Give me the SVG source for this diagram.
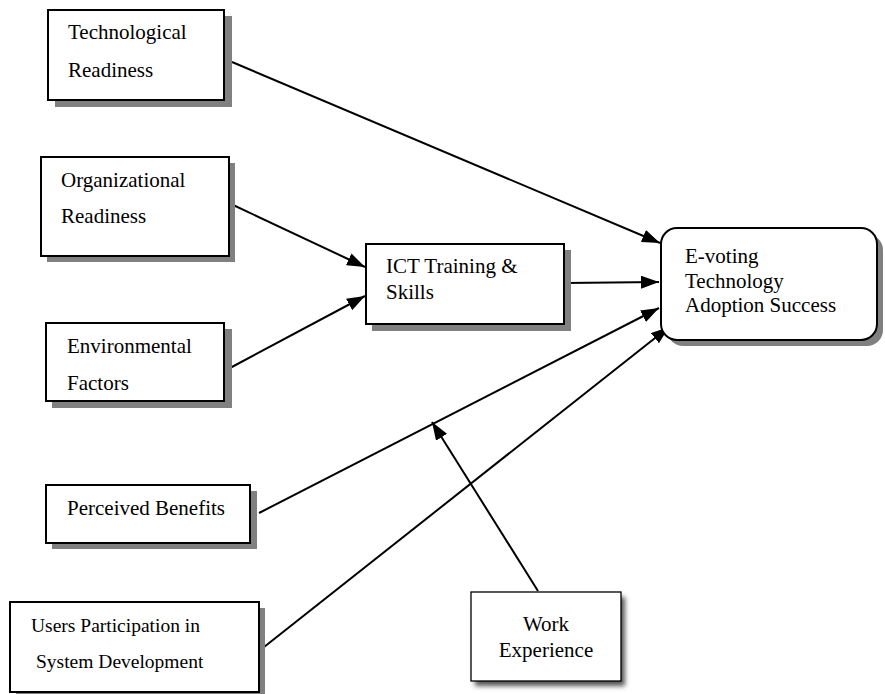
<svg xmlns="http://www.w3.org/2000/svg" width="885" height="694" viewBox="0 0 885 694">
  <style>
    .box { fill: #ffffff; stroke: #000000; stroke-width: 2; }
    .thin { fill: #ffffff; stroke: #000000; stroke-width: 1.3; }
    .shadow { fill: #808080; stroke: none; }
    .lbl { font-family: "Liberation Serif", "Times New Roman", serif; font-size: 21px; fill: #000000; }
    .edge { stroke: #000000; stroke-width: 2; fill: none; marker-end: url(#arrow); }
    .plain { stroke: #000000; stroke-width: 2; fill: none; }
  </style>
  <defs>
    <marker id="arrow" markerUnits="userSpaceOnUse" markerWidth="18" markerHeight="13" refX="18" refY="6.5" orient="auto">
      <path d="M0,0 L18,6.5 L0,13 z" fill="#000000"/>
    </marker>
    <filter id="soft" x="-20%" y="-20%" width="140%" height="140%">
      <feGaussianBlur stdDeviation="2.5"/>
    </filter>
  </defs>
  <rect width="885" height="694" fill="#ffffff"/>

  <!-- connectors -->
  <g id="connectors">
    <line class="edge" x1="232" y1="62" x2="660" y2="243"/>
    <line class="edge" x1="231" y1="204" x2="365" y2="267"/>
    <line class="edge" x1="230" y1="368" x2="365" y2="296"/>
    <line class="edge" x1="565" y1="283" x2="659" y2="282"/>
    <line class="edge" x1="259" y1="513" x2="659" y2="308"/>
    <line class="edge" x1="259" y1="651" x2="669" y2="327"/>
    <line class="edge" x1="538" y1="591" x2="432" y2="422"/>
  </g>

  <g id="technological-readiness">
    <rect class="shadow" x="55" y="16" width="177" height="91"/>
    <rect class="box" x="48" y="10" width="176" height="90"/>
    <text class="lbl" x="68" y="39">Technological</text>
    <text class="lbl" x="68" y="77">Readiness</text>
  </g>

  <g id="organizational-readiness">
    <rect class="shadow" x="47" y="163" width="188" height="99"/>
    <rect class="box" x="41" y="157" width="188" height="99"/>
    <text class="lbl" x="61" y="187">Organizational</text>
    <text class="lbl" x="61" y="223">Readiness</text>
  </g>

  <g id="environmental-factors">
    <rect class="shadow" x="52" y="329" width="180" height="79"/>
    <rect class="box" x="46" y="323" width="178" height="78"/>
    <text class="lbl" x="67" y="353">Environmental</text>
    <text class="lbl" x="67" y="390">Factors</text>
  </g>

  <g id="ict-training">
    <rect class="shadow" x="372" y="250" width="199" height="81"/>
    <rect class="box" x="366" y="244" width="198" height="80"/>
    <text class="lbl" x="386" y="273">ICT Training &amp;</text>
    <text class="lbl" x="386" y="299">Skills</text>
  </g>

  <g id="evoting-success">
    <rect class="shadow" x="667" y="234" width="216" height="112" rx="16"/>
    <rect class="box" x="661" y="228" width="216" height="112" rx="16"/>
    <text class="lbl" x="685" y="263">E-voting</text>
    <text class="lbl" x="685" y="288">Technology</text>
    <text class="lbl" x="685" y="312">Adoption Success</text>
  </g>

  <g id="perceived-benefits">
    <rect class="shadow" x="52" y="491" width="205" height="58"/>
    <rect class="box" x="46" y="485" width="204" height="58"/>
    <text class="lbl" x="67" y="515">Perceived Benefits</text>
  </g>

  <g id="users-participation">
    <rect class="shadow" x="16" y="608" width="249" height="90"/>
    <rect class="box" x="10" y="602" width="249" height="90"/>
    <text class="lbl" x="31" y="632" style="font-size:19.5px">Users Participation in</text>
    <text class="lbl" x="36" y="668" style="font-size:19.5px">System Development</text>
  </g>

  <g id="work-experience">
    <rect x="475" y="597" width="150" height="89" fill="#555555" filter="url(#soft)"/>
    <rect class="thin" x="471" y="592" width="150" height="89"/>
    <text class="lbl" x="546" y="631" text-anchor="middle">Work</text>
    <text class="lbl" x="546" y="657" text-anchor="middle">Experience</text>
  </g>
</svg>
